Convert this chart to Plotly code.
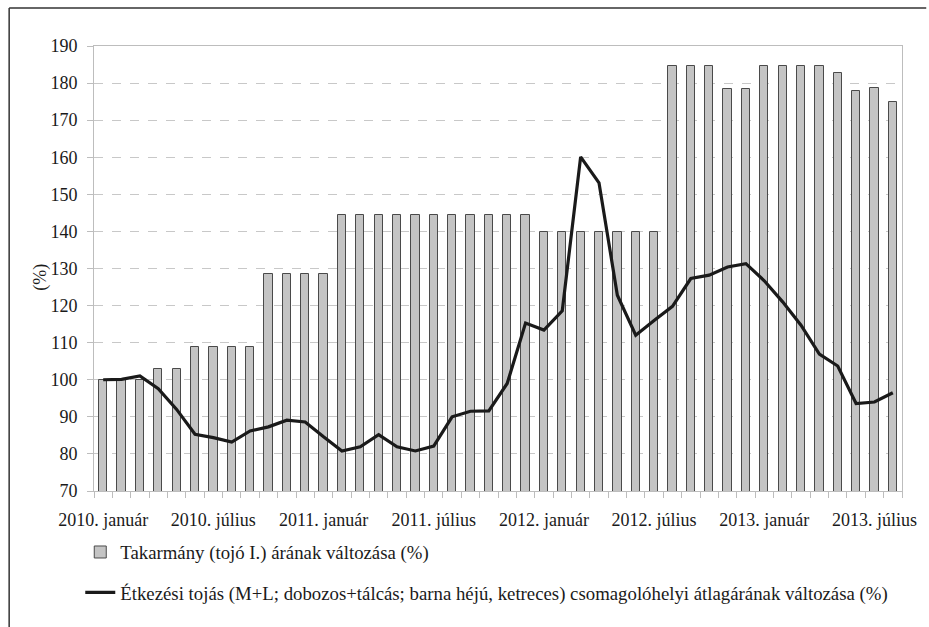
import plotly.graph_objects as go

# Monthly index values, 2010. január = 100 (2010 Jan .. 2013 Aug)
months = list(range(44))
feed_index = [100, 100, 100, 103, 103, 108.8, 108.8, 108.8, 108.8,
              128.5, 128.5, 128.5, 128.5,
              144.5, 144.5, 144.5, 144.5, 144.5, 144.5, 144.5, 144.5, 144.5, 144.5, 144.5,
              139.8, 139.8, 139.8, 139.8, 139.8, 139.8, 139.8,
              184.6, 184.6, 184.6, 178.5, 178.5, 184.6, 184.6, 184.6, 184.6,
              182.6, 177.9, 178.7, 175.0]
egg_index = [100.0, 100.1, 101.0, 97.6, 92.0, 85.3, 84.4, 83.2, 86.2, 87.3, 89.1,
             88.6, 84.6, 80.8, 81.9, 85.2, 81.9, 80.8, 82.1, 90.0, 91.5, 91.6,
             99.0, 115.3, 113.4, 118.6, 160.1, 153.1, 122.8, 112.0, 116.0, 119.8,
             127.3, 128.2, 130.4, 131.3, 126.7, 121.0, 114.7, 106.9, 103.7, 93.6,
             94.0, 96.5]

label_pos = [0, 6, 12, 18, 24, 30, 36, 42]
label_text = ["2010. január", "2010. július", "2011. január", "2011. július",
              "2012. január", "2012. július", "2013. január", "2013. július"]

feed_name = "Takarmány (tojó I.) árának változása (%)"
egg_name = ("Étkezési tojás (M+L; dobozos+tálcás; barna héjú, ketreces) "
            "csomagolóhelyi átlagárának változása (%)")

SERIF = "Liberation Serif, Times New Roman, serif"
AXIS_GREY = "#bdbdbd"

fig = go.Figure()
fig.add_trace(go.Bar(
    x=months, y=feed_index, name=feed_name, width=0.45,
    marker=dict(color="#c4c4c4", line=dict(color="#4a4a4a", width=1)),
    legendgroup="a",
))
fig.add_trace(go.Scatter(
    x=months, y=egg_index, name=egg_name, mode="lines",
    line=dict(color="#1a1a1a", width=3.2),
    legendgroup="b",
))

fig.update_layout(
    width=929, height=627,
    margin=dict(l=94, r=17, t=46, b=136),
    paper_bgcolor="white", plot_bgcolor="white",
    font=dict(family=SERIF, size=18, color="#1a1a1a"),
    showlegend=True,
    legend=dict(
        x=-0.017, y=-0.095, xanchor="left", yanchor="top",
        orientation="v", tracegroupgap=13,
        font=dict(family=SERIF, size=18.8, color="#1a1a1a"),
        bgcolor="rgba(0,0,0,0)",
    ),
    bargap=0,
)

fig.update_xaxes(
    range=[-0.5, 43.5],
    tickmode="array", tickvals=label_pos, ticktext=label_text,
    ticks="", showgrid=False, ticklabelstandoff=12,
    showline=True, linecolor=AXIS_GREY, linewidth=1, mirror=True,
    minor=dict(tickmode="linear", tick0=-0.5, dtick=1, ticks="outside",
               ticklen=6, tickcolor=AXIS_GREY, tickwidth=1, showgrid=False),
    tickfont=dict(family=SERIF, size=18),
    zeroline=False,
)
fig.update_yaxes(
    range=[70, 190], dtick=10, tick0=70,
    ticks="outside", ticklen=6, tickcolor=AXIS_GREY, ticklabelstandoff=6,
    showgrid=True, gridcolor="#c8c8c8", griddash="dash", gridwidth=1,
    showline=True, linecolor=AXIS_GREY, linewidth=1, mirror=True,
    tickfont=dict(family=SERIF, size=18),
    zeroline=False,
)

# y-axis caption
fig.add_annotation(
    text="(%)", textangle=-90, xref="paper", yref="paper",
    x=-0.082, y=0.48, showarrow=False,
    font=dict(family=SERIF, size=18, color="#1a1a1a"),
)

# outer frame (top and left edges)
fig.add_shape(type="line", xref="paper", yref="paper",
              x0=-0.105, x1=1.03, y0=1.0854, y1=1.0854,
              line=dict(color="#333333", width=1.5))
fig.add_shape(type="line", xref="paper", yref="paper",
              x0=-0.105, x1=-0.105, y0=1.0854, y1=-0.32,
              line=dict(color="#333333", width=1.5))

fig.write_html("out.html")
